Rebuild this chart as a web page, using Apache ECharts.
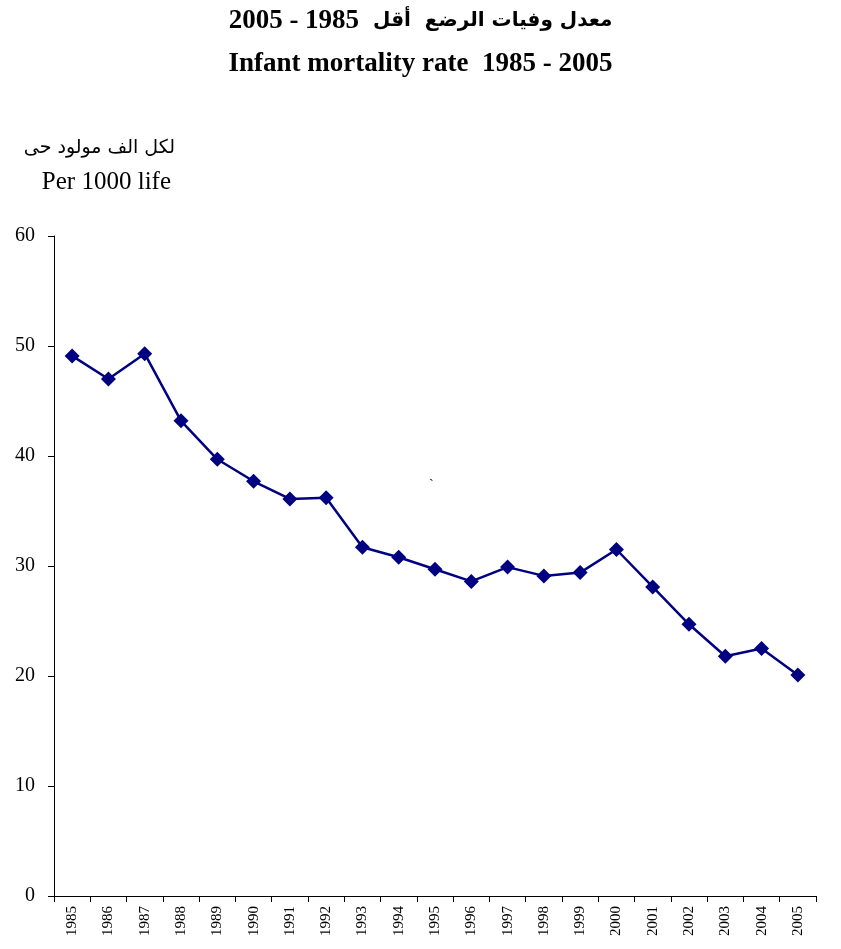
<!DOCTYPE html>
<html>
<head>
<meta charset="utf-8">
<script src="https://cdn.jsdelivr.net/npm/echarts@6/dist/echarts.min.js"></script>
<style>
html,body{margin:0;padding:0;background:#fff;}
#chart{width:841px;height:949px;}
</style>
</head>
<body>
<div id="chart"></div>
<script>
const years = ['1985','1986','1987','1988','1989','1990','1991','1992','1993','1994','1995','1996','1997','1998','1999','2000','2001','2002','2003','2004','2005'];
const rates = [49.1,47.0,49.3,43.2,39.7,37.7,36.1,36.2,31.7,30.8,29.7,28.6,29.9,29.1,29.4,31.5,28.1,24.7,21.8,22.5,20.1];
const titleArWords = 'معدل وفيات الرضع  أقل';
const titleArYears = '2005 - 1985';
const titleEn = 'Infant mortality rate  1985 - 2005';
const unitAr = 'لكل الف مولود حى';
const unitEn = 'Per 1000 life';
const FONT = '"Liberation Serif", "Times New Roman", "DejaVu Sans", serif';

const chart = echarts.init(document.getElementById('chart'), null, {renderer:'canvas'});
chart.setOption({
  backgroundColor:'#fff',
  animation:false,
  title:[
    {text:'{n|' + titleArYears + '}{a|  ' + titleArWords + '}', left:'center', top:1,
     textStyle:{rich:{
       n:{fontFamily:FONT, fontSize:27, fontWeight:'bold', color:'#000', lineHeight:30},
       a:{fontFamily:'"DejaVu Sans", sans-serif', fontSize:20, fontWeight:'bold', color:'#000', lineHeight:30}
     }}},
    {text:titleEn, left:'center', top:46, textStyle:{fontFamily:FONT, fontSize:27, fontWeight:'bold', color:'#000'}}
  ],
  graphic:[
    {type:'text', right:841-175, top:139, style:{text:unitAr, font:'19px "DejaVu Sans", sans-serif', fill:'#000', textAlign:'right'}},
    {type:'text', right:841-171, top:170, style:{text:unitEn, font:'25px ' + FONT, fill:'#000', textAlign:'right'}},
    {type:'text', left:429, top:478, style:{text:'`', font:'14px ' + FONT, fill:'#000'}}
  ],
  grid:{left:54, right:25, top:236, bottom:53, containLabel:false},
  xAxis:{
    type:'category', data:years, boundaryGap:true,
    axisLine:{lineStyle:{color:'#000', width:1}},
    axisTick:{show:true, interval:0, length:6, lineStyle:{color:'#000'}},
    axisLabel:{interval:0, rotate:90, margin:10, fontFamily:FONT, fontSize:15, color:'#000'}
  },
  yAxis:{
    type:'value', min:0, max:60, interval:10,
    axisLine:{show:true, lineStyle:{color:'#000', width:1}},
    axisTick:{show:true, length:6, lineStyle:{color:'#000'}},
    splitLine:{show:false},
    axisLabel:{margin:19, fontFamily:FONT, fontSize:20, color:'#000'}
  },
  series:[{
    type:'line', data:rates,
    lineStyle:{color:'#000080', width:2.5},
    itemStyle:{color:'#000080'},
    symbol:'diamond', symbolSize:15, showSymbol:true
  }]
});
</script>
</body>
</html>
